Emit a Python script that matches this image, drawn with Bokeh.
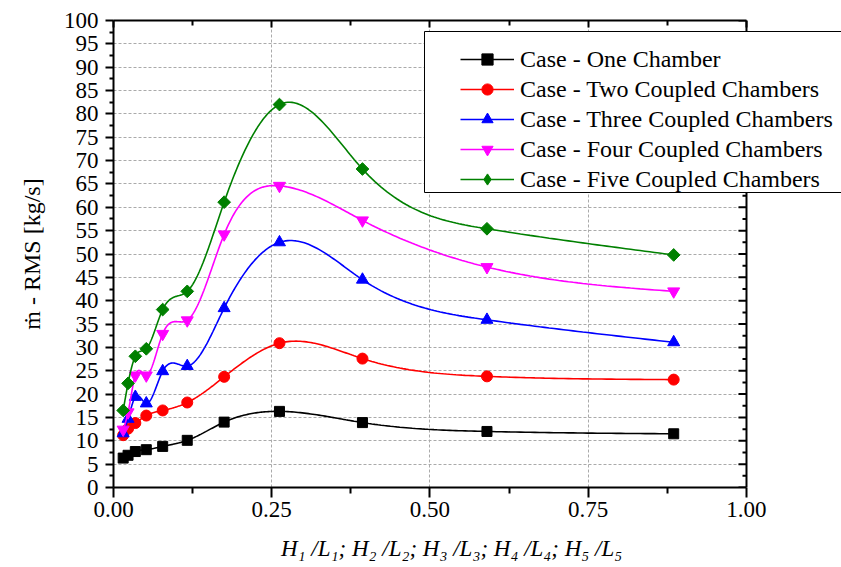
import numpy as np
from bokeh.plotting import figure
from bokeh.models import (LinearAxis, FixedTicker, Legend, LegendItem, BoxAnnotation,
                          NumeralTickFormatter, CustomJSTickFormatter, Range1d, Span)
from bokeh.embed import file_html
from bokeh.resources import INLINE

# Height/length ratio of the chambers (same for every case)
ratio = [0.0153, 0.0230, 0.0345, 0.0518, 0.0777, 0.1165, 0.1748, 0.2622, 0.3933, 0.5900, 0.8850]

# RMS of the mass flow rate [kg/s]
one_chamber = [6.3, 6.9, 7.7, 8.1, 8.8, 10.1, 14.0, 16.3, 13.9, 12.0, 11.5]
two_chambers = [11.2, 12.6, 13.8, 15.4, 16.5, 18.2, 23.7, 30.9, 27.6, 23.8, 23.1]
three_chambers = [11.6, 14.7, 19.4, 18.0, 24.9, 26.0, 38.4, 52.5, 44.5, 35.9, 31.1]
four_chambers = [12.4, 16.1, 24.0, 24.0, 32.9, 35.8, 54.2, 64.6, 57.2, 47.2, 42.0]
five_chambers = [16.5, 22.3, 28.1, 29.7, 38.1, 42.0, 61.1, 82.0, 68.2, 55.4, 49.8]

series_labels = ["Case - One Chamber", "Case - Two Coupled Chambers",
                 "Case - Three Coupled Chambers", "Case - Four Coupled Chambers",
                 "Case - Five Coupled Chambers"]

x_ticks = [0.0, 0.25, 0.5, 0.75, 1.0]
x_minor = [0.125, 0.375, 0.625, 0.875]
y_ticks = [0, 5, 10, 15, 20, 25, 30, 35, 40, 45, 50, 55, 60, 65, 70, 75, 80, 85, 90, 95, 100]
y_minor = [t + 2.5 for t in y_ticks[:-1]]

# styles for each series
colors = ["#000000", "#ff0000", "#0000ff", "#ff00ff", "#008000"]
markers = ["square", "circle", "triangle", "inverted_triangle", "square"]
legend_markers = ["square", "circle", "triangle", "inverted_triangle", "diamond"]
marker_sizes = [10, 11, 12, 12, 9]
marker_angles = [0, 0, 0, 0, np.pi / 4]

FONT = "'Liberation Serif', 'Times New Roman', 'DejaVu Serif', serif"

# the frame runs on to the right edge so the legend is not clipped;
# the plotted region itself ends at x = 1
X_END = 1.1501


def natural_spline(x, y, per_seg=40):
    """Smooth curve through the points (natural cubic spline)."""
    x = np.asarray(x, float)
    y = np.asarray(y, float)
    n = len(x)
    h = np.diff(x)
    A = np.zeros((n, n))
    rhs = np.zeros(n)
    A[0, 0] = A[-1, -1] = 1.0
    for i in range(1, n - 1):
        A[i, i - 1] = h[i - 1]
        A[i, i] = 2 * (h[i - 1] + h[i])
        A[i, i + 1] = h[i]
        rhs[i] = 6 * ((y[i + 1] - y[i]) / h[i] - (y[i] - y[i - 1]) / h[i - 1])
    M = np.linalg.solve(A, rhs)
    xs_all, ys_all = [], []
    for i in range(n - 1):
        t = np.linspace(x[i], x[i + 1], per_seg, endpoint=(i == n - 2))
        a = (x[i + 1] - t) / h[i]
        b = (t - x[i]) / h[i]
        yy = a * y[i] + b * y[i + 1] + ((a ** 3 - a) * M[i] + (b ** 3 - b) * M[i + 1]) * h[i] ** 2 / 6
        xs_all.append(t)
        ys_all.append(yy)
    return np.concatenate(xs_all), np.concatenate(ys_all)


p = figure(width=841, height=567, x_range=Range1d(0, X_END), y_range=Range1d(0, 100),
           output_backend="svg", toolbar_location=None,
           min_border_left=113, min_border_right=0, min_border_top=20, min_border_bottom=80,
           background_fill_color="white", border_fill_color="white")
p.outline_line_color = None

# grid
p.xgrid.ticker = FixedTicker(ticks=[0.25, 0.5, 0.75])
p.ygrid.ticker = FixedTicker(ticks=y_ticks)
for g in (p.xgrid[0], p.ygrid[0]):
    g.grid_line_color = "#aaaaaa"
    g.grid_line_dash = "3 2"
    g.grid_line_width = 1

# blank out the strip right of x = 1
p.add_layout(BoxAnnotation(left=1.0, fill_color="white", fill_alpha=1.0,
                           line_color=None, level="underlay"))

# bottom axis (label padded on the right so it sits centred under x = 0..1)
xa = p.xaxis[0]
xa.ticker = FixedTicker(ticks=x_ticks, minor_ticks=x_minor)
xa.bounds = (0, 1)
xa.formatter = NumeralTickFormatter(format="0.00")
xa.axis_label = ("H\u2081 /L\u2081; H\u2082 /L\u2082; H\u2083 /L\u2083; H\u2084 /L\u2084; H\u2085 /L\u2085"
                 + "\u00a0" * 9)
xa.axis_label_text_font_style = "italic"
xa.major_tick_out = 10
xa.major_tick_in = 0
xa.minor_tick_out = 6
xa.minor_tick_in = 0
xa.major_label_standoff = 4
xa.axis_label_standoff = 16

# left axis
ya = p.yaxis[0]
ya.ticker = FixedTicker(ticks=y_ticks, minor_ticks=y_minor)
ya.axis_label = "\u1e41 - RMS [kg/s]"
ya.axis_label_text_font_style = "normal"
ya.major_tick_out = 8
ya.major_tick_in = 0
ya.minor_tick_out = 4
ya.minor_tick_in = 0
ya.major_label_standoff = 7
ya.axis_label_standoff = 16

for ax in (xa, ya):
    ax.axis_line_width = 2
    ax.axis_line_color = "black"
    ax.major_tick_line_width = 2
    ax.minor_tick_line_width = 2
    ax.major_label_text_font = FONT
    ax.major_label_text_font_size = "23px"
    ax.major_label_text_color = "black"
    ax.axis_label_text_font = FONT
    ax.axis_label_text_color = "black"
xa.axis_label_text_font_size = "23px"
ya.axis_label_text_font_size = "24px"

# top axis with inward ticks
top = LinearAxis(ticker=FixedTicker(ticks=x_ticks, minor_ticks=x_minor), bounds=(0, 1))
top.formatter = CustomJSTickFormatter(code="return ''")
top.major_label_text_font_size = "0px"
top.major_label_standoff = 0
top.major_tick_in = 7
top.major_tick_out = 0
top.minor_tick_in = 5
top.minor_tick_out = 0
top.axis_line_width = 2
top.major_tick_line_width = 2
top.minor_tick_line_width = 2
p.add_layout(top, "above")

# right-hand frame line at x = 1 with inward ticks
p.add_layout(Span(location=1.0, dimension="height", line_color="black", line_width=2))
p.ray(x=[1.0] * len(y_ticks), y=y_ticks, length=8, length_units="screen",
      angle=np.pi, line_color="black", line_width=2)
p.ray(x=[1.0] * len(y_minor), y=y_minor, length=4, length_units="screen",
      angle=np.pi, line_color="black", line_width=2)

all_series = [one_chamber, two_chambers, three_chambers, four_chambers, five_chambers]
items = []
for vals, label, col, mk, lmk, ms, ang in zip(all_series, series_labels, colors, markers,
                                              legend_markers, marker_sizes, marker_angles):
    sx, sy = natural_spline(ratio, vals)
    lr = p.line(sx, sy, line_color=col, line_width=1.6)
    sr = p.scatter(ratio, vals, marker=mk, size=ms, angle=ang,
                   fill_color=col, line_color=col, line_width=1)
    if lmk != mk:
        # legend swatch for the rotated marker (legend glyphs ignore angle)
        sr = p.scatter(ratio, vals, marker=lmk, size=ms, fill_color=col,
                       line_color=col, line_width=1, visible=False)
    items.append(LegendItem(label=label, renderers=[lr, sr]))

# legend frame
box = BoxAnnotation(left=311, right=740, bottom=295, top=456,
                    left_units="screen", right_units="screen",
                    top_units="screen", bottom_units="screen",
                    fill_color="white", fill_alpha=1.0,
                    line_color="black", line_width=1, line_alpha=1.0)
p.add_layout(box)

legend = Legend(items=items, location=(347, 294),
                label_text_font=FONT, label_text_font_size="24px", label_text_color="black",
                glyph_width=54, glyph_height=28, label_height=28, spacing=2,
                padding=0, margin=0, label_standoff=6,
                border_line_color=None, background_fill_alpha=0)
p.add_layout(legend)

open("out.html", "w").write(file_html(p, INLINE))
